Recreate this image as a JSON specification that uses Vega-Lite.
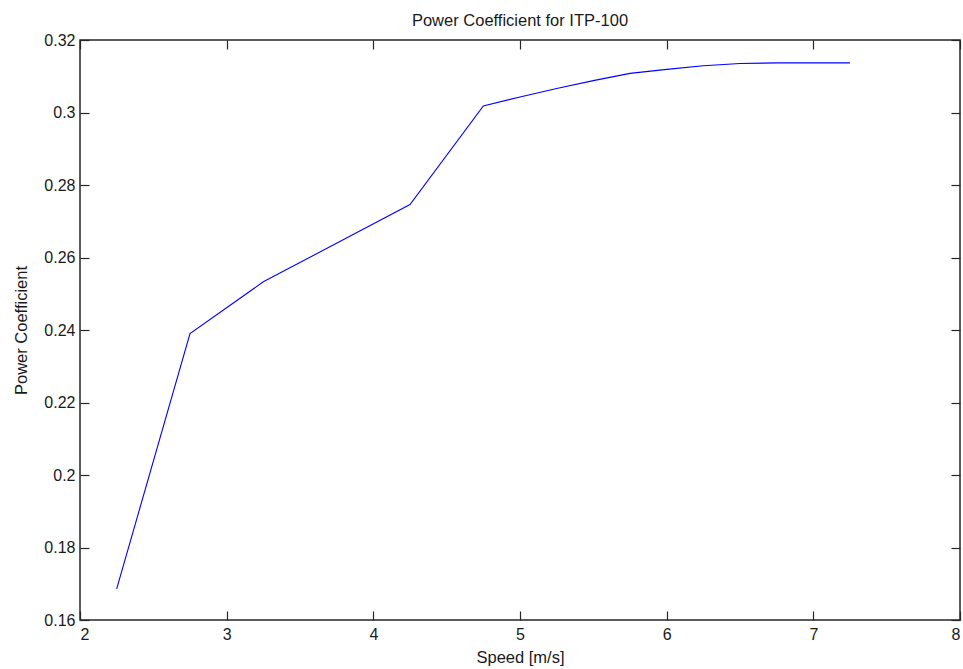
{
  "$schema": "https://vega.github.io/schema/vega-lite/v6.json",
  "width": 880,
  "height": 580,
  "autosize": {"type": "none"},
  "padding": {"left": 80, "top": 40, "right": 3, "bottom": 49},
  "background": "white",
  "config": {
    "font": "Liberation Sans",
    "view": {"stroke": "#262626", "strokeWidth": 1.5},
    "axis": {
      "grid": false,
      "domain": false,
      "tickSize": -9,
      "tickColor": "#262626",
      "tickWidth": 1.2,
      "labelFont": "Liberation Sans",
      "labelFontSize": 16,
      "labelColor": "#1a1a1a",
      "titleFont": "Liberation Sans",
      "titleFontSize": 16.5,
      "titleFontWeight": "normal",
      "titleColor": "#1a1a1a"
    }
  },
  "title": {
    "text": "Power Coefficient for ITP-100",
    "fontSize": 16.5,
    "fontWeight": "normal",
    "font": "Liberation Sans",
    "color": "#1a1a1a",
    "offset": 3
  },
  "data": {
    "values": [
      {"speed": 2.25, "cp": 0.1686},
      {"speed": 2.75, "cp": 0.2390},
      {"speed": 3.25, "cp": 0.2533},
      {"speed": 4.25, "cp": 0.2746},
      {"speed": 4.75, "cp": 0.3018},
      {"speed": 5.0, "cp": 0.3043},
      {"speed": 5.25, "cp": 0.3066},
      {"speed": 5.5, "cp": 0.3088},
      {"speed": 5.75, "cp": 0.3108},
      {"speed": 6.0, "cp": 0.3119},
      {"speed": 6.25, "cp": 0.3129},
      {"speed": 6.5, "cp": 0.3135},
      {"speed": 6.75, "cp": 0.3137},
      {"speed": 7.0, "cp": 0.3137},
      {"speed": 7.25, "cp": 0.3137}
    ]
  },
  "layer": [
    {
      "mark": {"type": "line", "color": "#0000FF", "strokeWidth": 1.1},
      "encoding": {
        "x": {
          "field": "speed", "type": "quantitative",
          "scale": {"domain": [2, 8], "nice": false, "zero": false},
          "axis": {"values": [2, 3, 4, 5, 6, 7, 8], "format": "~g", "title": "Speed [m/s]", "labelPadding": 15, "titlePadding": 7}
        },
        "y": {
          "field": "cp", "type": "quantitative",
          "scale": {"domain": [0.16, 0.32], "nice": false, "zero": false},
          "axis": {"values": [0.16, 0.18, 0.2, 0.22, 0.24, 0.26, 0.28, 0.3, 0.32], "format": "~g", "title": "Power Coefficient", "labelPadding": 14, "titlePadding": 14}
        }
      }
    },
    {
      "mark": {"type": "line", "opacity": 0},
      "encoding": {
        "x": {
          "field": "speed", "type": "quantitative",
          "scale": {"domain": [2, 8], "nice": false, "zero": false},
          "axis": {"orient": "top", "values": [2, 3, 4, 5, 6, 7, 8], "labels": false, "title": null}
        },
        "y": {
          "field": "cp", "type": "quantitative",
          "scale": {"domain": [0.16, 0.32], "nice": false, "zero": false},
          "axis": {"orient": "right", "values": [0.16, 0.18, 0.2, 0.22, 0.24, 0.26, 0.28, 0.3, 0.32], "labels": false, "title": null}
        }
      }
    }
  ],
  "resolve": {"axis": {"x": "independent", "y": "independent"}}
}
